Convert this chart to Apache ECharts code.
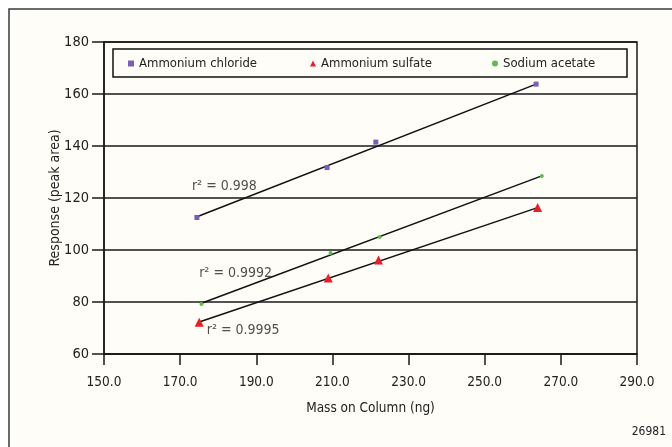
<!DOCTYPE html>
<html>
<head>
<meta charset="utf-8">
<script src="https://cdn.jsdelivr.net/npm/echarts@6/dist/echarts.min.js"></script>
<style>
html,body{margin:0;padding:0;background:#ffffff;}
#chart{width:672px;height:447px;}
</style>
</head>
<body>
<div id="chart"></div>
<script>
// ---- data ----
const seriesNames = ['Ammonium chloride', 'Ammonium sulfate', 'Sodium acetate'];

const chlorideX = [174.4, 208.6, 221.4, 263.5];
const chlorideY = [112.5, 131.7, 141.5, 163.8];

const sulfateX = [175.0, 208.9, 222.1, 263.9];
const sulfateY = [72.2, 89.2, 96.2, 116.3];

const acetateX = [175.6, 209.5, 222.4, 265.0];
const acetateY = [79.2, 98.8, 105.0, 128.5];

// fitted trend lines (end points)
const chlorideFitX = [174.6, 263.5];
const chlorideFitY = [112.9, 163.8];
const sulfateFitX = [175.2, 263.9];
const sulfateFitY = [72.4, 116.3];
const acetateFitX = [175.6, 265.0];
const acetateFitY = [79.5, 128.5];

// r² annotations: anchor (left edge, vertical middle) in data units
const r2Labels = ['r² = 0.998', 'r² = 0.9992', 'r² = 0.9995'];
const r2X = [173.1, 175.0, 177.0];
const r2Y = [124.3, 91.2, 69.2];

const xTicks = {min: 150, max: 290, step: 20};
const yTicks = {min: 60, max: 180, step: 20};
const figureId = '26981';

// ---- chart ----
const FONT = '"Liberation Sans Narrow", "DejaVu Sans Condensed", "Arial Narrow", sans-serif';
const colors = {chloride: '#7a5fb8', sulfate: '#ee1c24', acetate: '#5cbd4a'};

function pairs(xs, ys) { return xs.map((x, i) => [x, ys[i]]); }

const chart = echarts.init(document.getElementById('chart'), null, {renderer: 'canvas'});

const option = {
  animation: false,
  backgroundColor: '#ffffff',
  textStyle: {fontFamily: FONT},
  graphic: [
    {type: 'rect', z: -10, shape: {x: 9, y: 9, width: 720, height: 500},
     style: {fill: '#fefdf8', stroke: '#3a3a3a', lineWidth: 1.5}},
    {type: 'rect', z: 5, shape: {x: 113, y: 49, width: 514, height: 28},
     style: {fill: '#fefdf8', stroke: '#111111', lineWidth: 1.5}},
    {type: 'text', z: 5, right: 6, top: 426,
     style: {text: figureId, font: '12px ' + FONT, fill: '#222'}}
  ],
  grid: {left: 104, top: 42, width: 533, height: 312, show: true,
         borderColor: '#1a1a1a', borderWidth: 1.5, backgroundColor: 'transparent'},
  legend: {
    left: 128, top: 56, z: 10, padding: 0,
    itemWidth: 6, itemHeight: 6, itemGap: 5,
    textStyle: {fontFamily: FONT, fontSize: 13, color: '#222', width: 166, lineHeight: 15},
    data: seriesNames
  },
  xAxis: {
    type: 'value', min: xTicks.min, max: xTicks.max, interval: xTicks.step,
    name: 'Mass on Column (ng)', nameLocation: 'middle', nameGap: 47,
    nameTextStyle: {fontFamily: FONT, fontSize: 13.5, color: '#222'},
    axisLine: {show: true, onZero: false, lineStyle: {color: '#1a1a1a', width: 1.5}},
    axisTick: {show: true, inside: false, length: 11, lineStyle: {color: '#1a1a1a', width: 1.5}},
    axisLabel: {margin: 21, fontFamily: FONT, fontSize: 13.5, color: '#222',
                formatter: v => v.toFixed(1)},
    splitLine: {show: false}
  },
  yAxis: {
    type: 'value', min: yTicks.min, max: yTicks.max, interval: yTicks.step,
    name: 'Response (peak area)', nameLocation: 'middle', nameGap: 42,
    nameMoveOverlap: false,
    nameTextStyle: {fontFamily: FONT, fontSize: 14, color: '#222'},
    axisLine: {show: true, onZero: false, lineStyle: {color: '#1a1a1a', width: 1.5}},
    axisTick: {show: true, inside: false, length: 12, lineStyle: {color: '#1a1a1a', width: 1.5}},
    axisLabel: {margin: 15, fontFamily: FONT, fontSize: 14.5, color: '#222'},
    splitLine: {show: true, lineStyle: {color: '#1a1a1a', width: 1.5}}
  },
  series: [
    {name: seriesNames[0], type: 'scatter', symbol: 'rect', symbolSize: 5,
     itemStyle: {color: colors.chloride, opacity: 1}, z: 4,
     data: pairs(chlorideX, chlorideY)},
    {name: seriesNames[1], type: 'scatter', symbol: 'triangle', symbolSize: 9,
     itemStyle: {color: colors.sulfate, opacity: 1}, z: 4,
     data: pairs(sulfateX, sulfateY)},
    {name: seriesNames[2], type: 'scatter', symbol: 'circle', symbolSize: 4,
     itemStyle: {color: colors.acetate, opacity: 1}, z: 4,
     data: pairs(acetateX, acetateY)},
    {type: 'line', symbol: 'none', z: 3, lineStyle: {color: '#111', width: 1.5},
     data: pairs(chlorideFitX, chlorideFitY)},
    {type: 'line', symbol: 'none', z: 3, lineStyle: {color: '#111', width: 1.5},
     data: pairs(sulfateFitX, sulfateFitY)},
    {type: 'line', symbol: 'none', z: 3, lineStyle: {color: '#111', width: 1.5},
     data: pairs(acetateFitX, acetateFitY)},
    {type: 'scatter', symbolSize: 0, z: 5, silent: true,
     label: {show: true, position: 'right', distance: 0,
             fontFamily: FONT, fontSize: 14, color: '#222',
             formatter: p => r2Labels[p.dataIndex]},
     data: pairs(r2X, r2Y)}
  ]
};
chart.setOption(option);
</script>
</body>
</html>
